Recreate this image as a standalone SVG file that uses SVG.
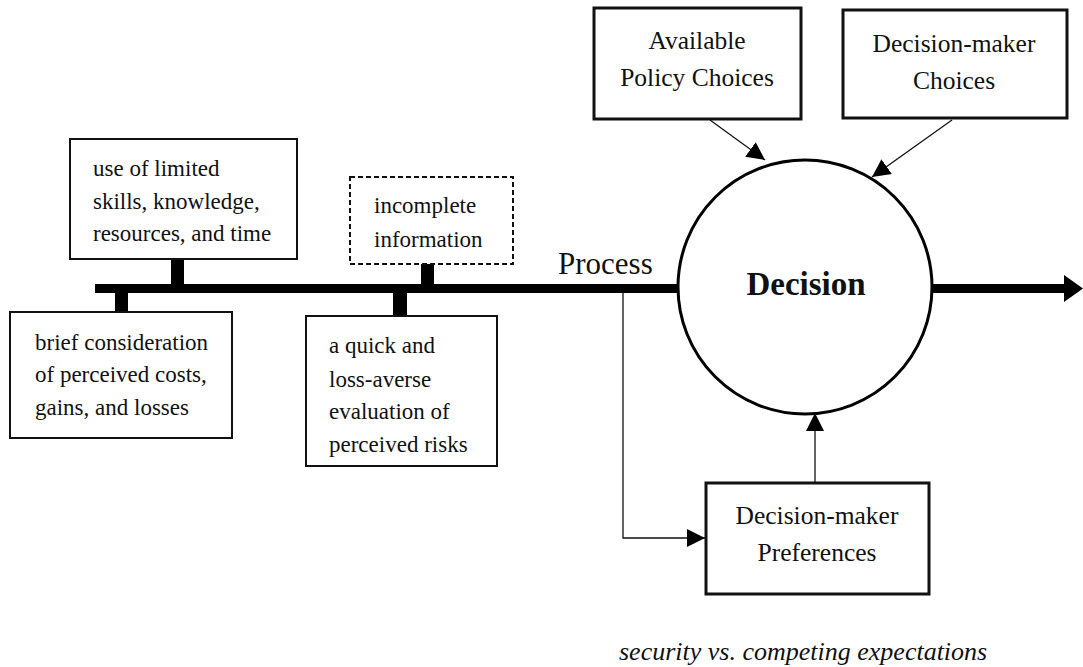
<svg xmlns="http://www.w3.org/2000/svg" width="1083" height="667" viewBox="0 0 1083 667">
<style>
text{font-family:"Liberation Serif","DejaVu Serif",serif;fill:#111}
.t{font-size:23px}
.h{font-size:25.5px;text-anchor:middle}
.box{fill:#fff;stroke:#111;stroke-width:2}
.bbox{fill:#fff;stroke:#111;stroke-width:3}
.thin{stroke:#111;stroke-width:1.3;fill:none}
.stem{fill:#000}
</style>
<defs>
<marker id="ah" markerWidth="18" markerHeight="18" viewBox="0 0 18 18" refX="18" refY="9" orient="auto" markerUnits="userSpaceOnUse">
<path d="M0,0 L18,9 L0,18 Z" fill="#000"/>
</marker>
</defs>
<g id="connectors">
<rect x="95" y="284" width="583" height="9" class="stem"/>
<rect x="171" y="258" width="13" height="27" class="stem"/>
<rect x="115" y="292" width="13" height="21" class="stem"/>
<rect x="421" y="263" width="13" height="22" class="stem"/>
<rect x="393" y="292" width="14" height="25" class="stem"/>
<rect x="932" y="284" width="135" height="9" class="stem"/>
<path d="M1064,275 L1083,288.5 L1064,302 Z" fill="#000"/>
<line x1="710" y1="120" x2="765" y2="160" class="thin" marker-end="url(#ah)"/>
<line x1="952" y1="120" x2="872" y2="177" class="thin" marker-end="url(#ah)"/>
<line x1="815" y1="482" x2="815" y2="413" class="thin" marker-end="url(#ah)"/>
<polyline points="623,293 623,538 705,538" class="thin" marker-end="url(#ah)"/>
</g>
<g id="decision">
<circle cx="805" cy="287" r="127" fill="#fff" stroke="#000" stroke-width="3"/>
<text x="806" y="295" style="font-size:33px;font-weight:bold;text-anchor:middle">Decision</text>
</g>
<g id="process-label">
<text x="558" y="274" style="font-size:31px">Process</text>
</g>
<g id="limited">
<rect x="70" y="139" width="227" height="120" class="box"/>
<text class="t" x="93" y="176">use of limited</text>
<text class="t" x="93" y="209">skills, knowledge,</text>
<text class="t" x="93" y="241">resources, and time</text>
</g>
<g id="brief">
<rect x="10" y="312" width="222" height="126" class="box"/>
<text class="t" x="35" y="350">brief consideration</text>
<text class="t" x="35" y="382">of perceived costs,</text>
<text class="t" x="35" y="415">gains, and losses</text>
</g>
<g id="incomplete">
<rect x="350" y="177" width="163" height="87" fill="#fff" stroke="#111" stroke-width="2" stroke-dasharray="5,3"/>
<text class="t" x="374" y="213">incomplete</text>
<text class="t" x="374" y="247">information</text>
</g>
<g id="quick">
<rect x="306" y="316" width="191" height="150" class="box"/>
<text class="t" x="329" y="353">a quick and</text>
<text class="t" x="329" y="387">loss-averse</text>
<text class="t" x="329" y="419">evaluation of</text>
<text class="t" x="329" y="452">perceived risks</text>
</g>
<g id="policy">
<rect x="594" y="8" width="207" height="111" class="bbox"/>
<text class="h" x="697" y="49">Available</text>
<text class="h" x="697" y="86">Policy Choices</text>
</g>
<g id="dm-choices">
<rect x="843" y="10" width="224" height="108" class="bbox"/>
<text class="h" x="954" y="52">Decision-maker</text>
<text class="h" x="954" y="89">Choices</text>
</g>
<g id="preferences">
<rect x="706" y="483" width="223" height="111" class="bbox"/>
<text class="h" x="817" y="524">Decision-maker</text>
<text class="h" x="817" y="561">Preferences</text>
</g>
<g id="caption">
<text x="619" y="660" style="font-size:26px;font-style:italic">security vs. competing expectations</text>
</g>
</svg>
